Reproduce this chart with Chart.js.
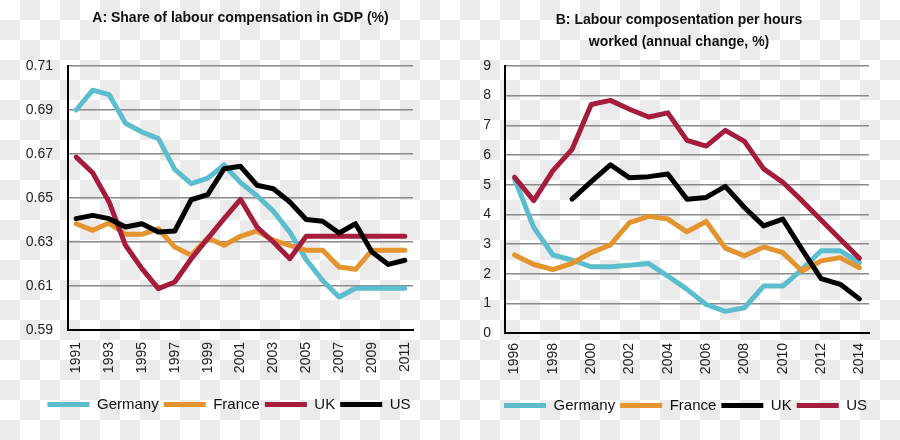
<!DOCTYPE html>
<html>
<head>
<meta charset="utf-8">
<script src="https://cdn.jsdelivr.net/npm/chart.js@4.4.1/dist/chart.umd.min.js"></script>
<style>
  html, body { margin: 0; padding: 0; width: 900px; height: 440px; overflow: hidden; }
  body {
    background-color: #ffffff;
    background-image: conic-gradient(#ebebeb 25%, transparent 0 50%, #ebebeb 0 75%, transparent 0);
    background-size: 40px 40px;
  }
  #wa { position: absolute; left: 0; top: 0; width: 450px; height: 440px; }
  #wb { position: absolute; left: 450px; top: 0; width: 450px; height: 440px; }
</style>
</head>
<body>
<div id="wa"><canvas id="ca" width="450" height="440"></canvas></div>
<div id="wb"><canvas id="cb" width="450" height="440"></canvas></div>
<script>
// ---------- Panel A: Share of labour compensation in GDP ----------
const yearsA = ['1991','1992','1993','1994','1995','1996','1997','1998','1999','2000',
                '2001','2002','2003','2004','2005','2006','2007','2008','2009','2010','2011'];
const germanyA = [0.690,0.699,0.697,0.684,0.680,0.677,0.663,0.6565,0.659,0.665,
                  0.657,0.651,0.644,0.6345,0.622,0.6125,0.605,0.609,0.609,0.609,0.609];
const franceA  = [0.6383,0.6353,0.6386,0.6335,0.6335,0.636,0.6277,0.624,0.6318,0.6285,
                  0.6326,0.635,0.6308,0.6285,0.6262,0.6262,0.6186,0.6176,0.6262,0.6262,0.6262];
const ukA      = [0.6686,0.6615,0.6482,0.6285,0.6179,0.6088,0.6118,0.6224,0.6315,0.6406,
                  0.6494,0.6368,0.630,0.6224,0.6326,0.6326,0.6326,0.6326,0.6326,0.6326,0.6326];
const usA      = [0.6406,0.6421,0.6406,0.6368,0.6383,0.6345,0.635,0.6492,0.6515,0.6633,
                  0.6644,0.6558,0.6542,0.6482,0.6402,0.6394,0.6341,0.6383,0.6255,0.6198,0.6217];

// ---------- Panel B: Labour compensation per hours worked ----------
const yearsB = ['1996','1997','1998','1999','2000','2001','2002','2003','2004','2005',
                '2006','2007','2008','2009','2010','2011','2012','2013','2014'];
const germanyB = [5.19,3.56,2.63,2.46,2.23,2.23,2.28,2.34,1.92,1.47,0.96,0.73,0.85,1.58,1.58,2.14,2.77,2.77,2.37];
const franceB  = [2.63,2.31,2.14,2.35,2.71,2.97,3.72,3.93,3.84,3.41,3.76,2.86,2.60,2.90,2.71,2.09,2.43,2.54,2.20];
const ukB      = [null,null,null,4.51,5.10,5.67,5.23,5.27,5.36,4.51,4.57,4.94,4.23,3.61,3.84,2.82,1.83,1.64,1.15];
const usB      = [5.25,4.46,5.47,6.19,7.70,7.84,7.54,7.28,7.42,6.49,6.30,6.83,6.46,5.53,5.08,4.46,3.81,3.16,2.52];

const titleA = 'A: Share of labour compensation in GDP (%)';
const titleB = ['B: Labour composentation per hours', 'worked (annual change, %)'];

const C_GER = '#5cbdcf', C_FRA = '#e3942f', C_RED = '#a51c3c', C_BLK = '#000000';
const FONT = "'Liberation Sans', Arial, sans-serif";

// shifts the title / legend boxes horizontally after layout
const shiftPlugin = {
  id: 'shiftBoxes',
  afterLayout(chart, args, opts) {
    if (chart.legend && opts.legendDx) { chart.legend.left += opts.legendDx; chart.legend.right += opts.legendDx; }
    if (chart.titleBlock && opts.titleDx) { chart.titleBlock.left += opts.titleDx; chart.titleBlock.right += opts.titleDx; }
  }
};

// later series drawn on top (lower order = drawn later)
function ds(label, data, color, order) {
  return {
    label, data, order,
    borderColor: color, backgroundColor: color,
    borderWidth: 5, pointRadius: 0, pointHoverRadius: 0,
    tension: 0, borderJoinStyle: 'round', borderCapStyle: 'round',
    spanGaps: false, pointStyle: 'line'
  };
}

function makeOptions(cfg) {
  return {
    responsive: false,
    animation: false,
    devicePixelRatio: 1,
    layout: { padding: { left: 0, right: cfg.padRight, top: 0, bottom: cfg.padBottom } },
    plugins: {
      tooltip: { enabled: false },
      shiftBoxes: { legendDx: cfg.legendDx, titleDx: cfg.titleDx },
      title: {
        display: true, text: cfg.title, fullSize: cfg.titleFull,
        color: '#111', font: { family: FONT, size: 14, weight: 'bold', lineHeight: 1.57 },
        padding: { top: cfg.titleTop, bottom: cfg.titleBottom }
      },
      legend: {
        position: 'bottom', fullSize: true,
        labels: {
          usePointStyle: true, pointStyleWidth: 42, boxHeight: 15,
          padding: 5, color: '#111',
          font: { family: FONT, size: 15 },
          sort: (a, b) => a.datasetIndex - b.datasetIndex
        }
      }
    },
    scales: {
      x: {
        offset: true,
        grid: { display: false, drawTicks: false, offset: true },
        border: { display: true, color: '#000', width: 2 },
        afterFit: s => { s.height = cfg.xHeight; },
        ticks: {
          autoSkip: false, minRotation: 90, maxRotation: 90, padding: cfg.xPad,
          color: '#222', font: { family: FONT, size: 14 },
          callback: function(v, i) { return i % 2 === 0 ? this.getLabelForValue(v) : ''; }
        }
      },
      y: {
        min: cfg.min, max: cfg.max,
        afterFit: s => { s.width = cfg.yWidth; },
        grid: {
          drawTicks: false, lineWidth: 1.5,
          color: c => (c.tick && Math.abs(c.tick.value - cfg.min) < 1e-9) ? 'rgba(0,0,0,0)' : '#8a8a8a'
        },
        border: { display: true, color: '#000', width: 2 },
        ticks: {
          stepSize: cfg.step, padding: cfg.yPad, color: '#222',
          font: { family: FONT, size: 14 },
          callback: v => cfg.fmt(v)
        }
      }
    }
  };
}

new Chart(document.getElementById('ca'), {
  type: 'line',
  data: {
    labels: yearsA,
    datasets: [ds('Germany', germanyA, C_GER, 3), ds('France', franceA, C_FRA, 2),
               ds('UK', ukA, C_RED, 1), ds('US', usA, C_BLK, 0)]
  },
  options: makeOptions({
    title: titleA, titleFull: false, titleTop: 7, titleBottom: 37, titleDx: 0,
    legendDx: 22.5,
    padRight: 37, padBottom: 18, xHeight: 62, xPad: 12,
    yWidth: 68, yPad: 15, min: 0.59, max: 0.71, step: 0.02,
    fmt: v => Number(v).toFixed(2)
  }),
  plugins: [shiftPlugin]
});

new Chart(document.getElementById('cb'), {
  type: 'line',
  data: {
    labels: yearsB,
    datasets: [ds('Germany', germanyB, C_GER, 3), ds('France', franceB, C_FRA, 2),
               ds('UK', ukB, C_BLK, 1), ds('US', usB, C_RED, 0)]
  },
  options: makeOptions({
    title: titleB, titleFull: true, titleTop: 9, titleBottom: 13, titleDx: 19.5,
    legendDx: 26,
    padRight: 31, padBottom: 17, xHeight: 60, xPad: 10,
    yWidth: 55, yPad: 14, min: 0, max: 9, step: 1,
    fmt: v => String(Math.round(v))
  }),
  plugins: [shiftPlugin]
});
</script>
</body>
</html>
